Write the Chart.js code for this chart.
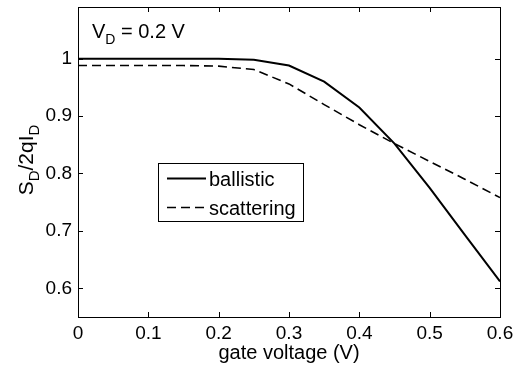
<!DOCTYPE html>
<html>
<head>
<meta charset="utf-8">
<script src="https://cdn.jsdelivr.net/npm/chart.js@4"></script>
<style>
  html, body { margin: 0; padding: 0; background: #fff; }
  #wrap { width: 514px; height: 369px; }
</style>
</head>
<body>
<div id="wrap"><canvas id="noiseChart" width="514" height="369"></canvas></div>
<script>
// gate voltage (V)
var gateVoltage = [0, 0.05, 0.1, 0.15, 0.2, 0.25, 0.3, 0.35, 0.4, 0.45, 0.5, 0.55, 0.6];
var ballistic = [1.0, 1.0, 1.0, 1.0, 1.0, 0.998, 0.988, 0.96, 0.915, 0.852, 0.775, 0.693, 0.612];
var scattering = [0.988, 0.988, 0.988, 0.988, 0.987, 0.981, 0.956, 0.92, 0.885, 0.852, 0.821, 0.79, 0.758];
var yTickValues = [0.6, 0.7, 0.8, 0.9, 1];
var seriesNames = ["ballistic", "scattering"];

var FONT = "'Liberation Sans', Arial, sans-serif";

function toPoints(xs, ys) {
	var pts = [];
	for (var i = 0; i < xs.length; i++) {
		pts.push({x: xs[i], y: ys[i]});
	}
	return pts;
}

// draws text made of normal and subscript pieces
function drawParts(ctx, parts, x, y, size, subSize) {
	var cx = x;
	for (var i = 0; i < parts.length; i++) {
		var sub = parts[i][1];
		ctx.font = (sub ? subSize : size) + "px " + FONT;
		ctx.fillText(parts[i][0], cx, sub ? y + 6 : y);
		cx += ctx.measureText(parts[i][0]).width;
	}
	return cx - x;
}

function partsWidth(ctx, parts, size, subSize) {
	var w = 0;
	for (var i = 0; i < parts.length; i++) {
		ctx.font = (parts[i][1] ? subSize : size) + "px " + FONT;
		w += ctx.measureText(parts[i][0]).width;
	}
	return w;
}

var framePlugin = {
	id: "frame",
	afterDraw: function(chart) {
		var ctx = chart.ctx;
		var a = chart.chartArea;
		var xs = chart.scales.x, ys = chart.scales.y;
		ctx.save();
		ctx.strokeStyle = "#000";
		ctx.lineWidth = 1;
		ctx.strokeRect(Math.round(a.left) + 0.5, Math.round(a.top) + 0.5, Math.round(a.right - a.left), Math.round(a.bottom - a.top));

		// inward ticks on all sides
		ctx.beginPath();
		xs.ticks.forEach(function(t) {
			var px = Math.round(xs.getPixelForValue(t.value)) + 0.5;
			ctx.moveTo(px, a.bottom); ctx.lineTo(px, a.bottom - 5);
			ctx.moveTo(px, a.top); ctx.lineTo(px, a.top + 5);
		});
		ys.ticks.forEach(function(t) {
			var py = Math.round(ys.getPixelForValue(t.value)) + 0.5;
			ctx.moveTo(a.left, py); ctx.lineTo(a.left + 5, py);
			ctx.moveTo(a.right, py); ctx.lineTo(a.right - 5, py);
		});
		ctx.stroke();

		ctx.fillStyle = "#000";
		ctx.textBaseline = "alphabetic";
		ctx.textAlign = "left";

		// annotation
		drawParts(ctx, [["V", false], ["D", true], [" = 0.2 V", false]], 92, 38, 20, 14);

		// x title
		ctx.font = "20px " + FONT;
		ctx.textAlign = "center";
		ctx.fillText("gate voltage (V)", (a.left + a.right) / 2, 359);
		ctx.textAlign = "left";

		// y title, rotated
		var yParts = [["S", false], ["D", true], ["/2qI", false], ["D", true]];
		var w = partsWidth(ctx, yParts, 21, 15);
		ctx.save();
		ctx.translate(33, 160);
		ctx.rotate(-Math.PI / 2);
		drawParts(ctx, yParts, -w / 2, 0, 21, 15);
		ctx.restore();

		// legend
		ctx.strokeRect(158.5, 163.5, 145, 58);
		var rows = [186, 215];
		chart.data.datasets.forEach(function(ds, i) {
			var ly = rows[i] - 7.5;
			ctx.save();
			ctx.lineWidth = ds.borderWidth;
			ctx.setLineDash(ds.borderDash || []);
			ctx.beginPath();
			ctx.moveTo(167, ly); ctx.lineTo(206, ly);
			ctx.stroke();
			ctx.restore();
			ctx.font = "20px " + FONT;
			ctx.fillText(ds.label, 209, rows[i]);
		});
		ctx.restore();
	}
};

var dataNoise = {
	datasets: [
		{
			label: seriesNames[0],
			data: toPoints(gateVoltage, ballistic),
			borderColor: "#000",
			borderWidth: 2,
			pointRadius: 0,
			fill: false
		},
		{
			label: seriesNames[1],
			data: toPoints(gateVoltage, scattering),
			borderColor: "#000",
			borderWidth: 1.6,
			borderDash: [9, 5],
			pointRadius: 0,
			fill: false
		}
	]
};

var configNoise = {
	type: 'line',
	data: dataNoise,
	options: {
		responsive: false,
		animation: false,
		layout: { padding: { top: 7, right: 14, left: 0, bottom: 0 } },
		plugins: {
			legend: { display: false },
			tooltip: { enabled: false }
		},
		scales: {
			x: {
				type: 'linear',
				min: 0,
				max: 0.6,
				grid: { display: false, drawTicks: false },
				border: { display: false },
				ticks: {
					stepSize: 0.1,
					padding: 5,
					color: "#000",
					font: { family: FONT, size: 19 },
					maxRotation: 0,
					callback: function(v) { return String(+v.toFixed(1)); }
				},
				afterFit: function(scale) {
					scale.height = 52;
					scale.paddingLeft = 0;
					scale.paddingRight = 0;
				}
			},
			y: {
				min: 0.55,
				max: 1.09,
				grid: { display: false, drawTicks: false },
				border: { display: false },
				afterBuildTicks: function(scale) {
					scale.ticks = yTickValues.map(function(v) { return {value: v}; });
				},
				ticks: {
					padding: 6,
					color: "#000",
					font: { family: FONT, size: 19 },
					callback: function(v) { return String(+v.toFixed(1)); }
				},
				afterFit: function(scale) {
					scale.width = 78;
					scale.paddingTop = 0;
					scale.paddingBottom = 0;
				}
			}
		}
	},
	plugins: [framePlugin]
};

var chartStatus = Chart.getChart("noiseChart");
if (chartStatus != undefined) {
	chartStatus.destroy();
}
var noiseChart = new Chart(
	document.getElementById('noiseChart'),
	configNoise
);
</script>
</body>
</html>
